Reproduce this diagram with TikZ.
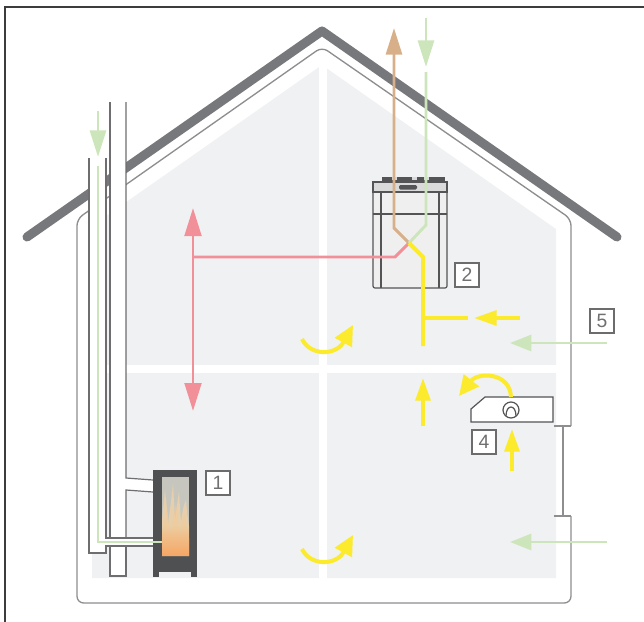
\documentclass[tikz,border=0pt]{standalone}
\usepackage{fontspec}
\setmainfont{Liberation Sans}
\usetikzlibrary{arrows.meta,fadings}

\definecolor{framegray}{HTML}{3C3C3E}
\definecolor{roofgray}{HTML}{77787B}
\definecolor{wallgray}{HTML}{8E8E90}
\definecolor{roomfill}{HTML}{F0F1F3}
\definecolor{pipegray}{HTML}{6E6E70}
\definecolor{extractair}{HTML}{F2909A}
\definecolor{exhaustair}{HTML}{D7B089}
\definecolor{freshair}{HTML}{CDE5BA}
\definecolor{supplyair}{HTML}{FCEA2C}
\definecolor{stovegray}{HTML}{4F5052}
\definecolor{glasscol}{HTML}{C7C6BE}
\definecolor{flamecol}{HTML}{F4D3A2}
\definecolor{embercol}{HTML}{F6A664}
\definecolor{labelgray}{HTML}{707072}
\definecolor{unitfill}{HTML}{EFEFF0}
\definecolor{unitlid}{HTML}{DADADB}
\definecolor{unitline}{HTML}{545456}

\begin{document}
\begin{tikzpicture}[x=0.75pt,y=-0.75pt,
  roofline/.style={draw=roofgray,line width=6.8pt,line cap=round,line join=round},
  wallline/.style={draw=wallgray,line width=1pt},
  pipeline/.style={draw=pipegray,line width=0.9pt},
  pinkflow/.style={draw=extractair,line width=2.2pt},
  brownflow/.style={draw=exhaustair,line width=2.2pt},
  greenflow/.style={draw=freshair,line width=2.2pt},
  yellowflow/.style={draw=supplyair,line width=3pt},
  bigtip/.style={-{Triangle[length=20pt,width=12pt]}},
  yellowtip/.style={-{Triangle[length=17pt,width=11pt]}},
  swirltip/.style={-{Triangle[length=15pt,width=14pt]}},
  unitbox/.style={draw=unitline,line width=0.9pt},
  numbox/.style={draw=gray!85!black,line width=0.8pt,fill=white,minimum size=18pt,inner sep=0pt,
                 text=labelgray,font=\fontsize{14.5}{15}\selectfont}
]
\useasboundingbox (0,0) rectangle (644,622);

% outer frame
\draw[draw=framegray,line width=0.9pt] (5,622) -- (5,7) -- (644,7);

% roof
\coordinate (roofL) at (27,237);
\coordinate (roofTop) at (322,31);
\coordinate (roofR) at (617,237);
\draw[roofline] (roofL) -- (roofTop) -- (roofR);

% room interior
\fill[roomfill] (92,578) -- (92,226) -- (322,65) -- (556,229) -- (556,578) -- cycle;
\fill[white] (318.5,60) rectangle (326.5,580);
\fill[white] (90,365) rectangle (558,373);

% house outline
\draw[wallline,rounded corners=5pt] (571,426) -- (571,219) -- (322,47) -- (77,219) -- (77,603) -- (571,603) -- (571,516);
\draw[wallline] (554,426) -- (571,426);
\draw[wallline] (554,516) -- (571,516);
\draw[wallline] (563,426) -- (563,516);

% chimney: combustion air duct and flue
\fill[white] (89,158) rectangle (106,553);
\fill[white] (110,102) rectangle (126,576);
\fill[white] (106,538) rectangle (153,546);
\fill[white] (126,478) -- (153,480) -- (153,492) -- (126,490) -- cycle;
\draw[pipeline] (89,158) -- (89,553) -- (106,553) -- (106,546) -- (153,546);
\draw[pipeline] (106,158) -- (106,538) -- (153,538);
\draw[pipeline] (110,102) -- (110,538);
\draw[pipeline] (126,102) -- (126,478) -- (153,480);
\draw[pipeline] (153,492) -- (126,490) -- (126,538);
\draw[pipeline] (110,546) -- (110,576) -- (126,576) -- (126,546);

% stove
\fill[stovegray] (153,470) rectangle (197,572);
\fill[stovegray] (153,571) rectangle (159,577);
\fill[stovegray] (191,571) rectangle (197,577);
\begin{scope}
  \clip (162,477) rectangle (189,556);
  \fill[glasscol] (162,477) rectangle (189,556);
  \fill[flamecol,opacity=.7] (162,556) -- (162,520) .. controls (164,505) .. (165,490)
     .. controls (167,508) .. (168,524) .. controls (170,510) .. (173,484)
     .. controls (174,502) .. (175,520) .. controls (177,505) .. (179,492)
     .. controls (180,508) .. (181,522) .. controls (183,508) .. (186,500)
     .. controls (187,512) .. (189,526) -- (189,556) -- cycle;
  \fill[flamecol!80!embercol,opacity=.6] (162,556) -- (162,535) .. controls (165,522) .. (167,508)
     .. controls (169,524) .. (171,536) .. controls (173,522) .. (176,502)
     .. controls (178,522) .. (180,536) .. controls (182,524) .. (184,514)
     .. controls (186,526) .. (189,538) -- (189,556) -- cycle;
  \fill[embercol,path fading=north] (162,526) rectangle (189,556);
\end{scope}

% ventilation unit
\filldraw[unitbox,fill=unitfill,rounded corners=1.5pt] (373,186) rectangle (447,288);
\filldraw[unitbox,fill=unitlid] (373,182) rectangle (447,192);
\fill[unitline] (382,177) rectangle (445,182);
\fill[unitlid] (392,177) rectangle (397,179.5);
\fill[unitlid] (412,177) rectangle (417,179.5);
\fill[unitlid] (424,177) rectangle (429,179.5);
\fill[unitline,rounded corners=1pt] (399,185) rectangle (417,189.5);
\draw[unitbox] (381,192) -- (381,288);
\draw[unitbox] (439,192) -- (439,288);
\draw[unitbox] (373,214) -- (447,214);

% air flows through the unit
\coordinate (cross) at (409,243);
\coordinate (exhaustTop) at (394,28);
\coordinate (freshTopA) at (426,18);
\coordinate (freshTopB) at (426,67);
\coordinate (freshIn) at (426,72);
\coordinate (extractUp) at (193,208);
\coordinate (extractDown) at (193,411);
\coordinate (extractJoin) at (193,257);

\draw[pinkflow,{Triangle[length=21pt,width=12.5pt]}-{Triangle[length=21pt,width=12.5pt]}] (extractUp) -- (extractDown);
\draw[pinkflow] (extractJoin) -- (395,257) -- (cross);
\draw[brownflow,bigtip] (cross) -- (394,228) -- (exhaustTop);
\draw[greenflow,bigtip] (freshTopA) -- (freshTopB);
\draw[greenflow] (freshIn) -- (426,225) -- (cross);

% supply air
\coordinate (supplyBend) at (423,257);
\coordinate (supplyT) at (423,318);
\draw[yellowflow] (cross) -- (supplyBend) -- (423,346);
\draw[yellowflow] (supplyT) -- (468,318);
\coordinate (ovA) at (520,318);
\coordinate (ovB) at (474,318);
\draw[yellowflow,yellowtip] (ovA) -- (ovB);
\coordinate (upA) at (423,426);
\coordinate (upB) at (423,378);
\draw[yellowflow,yellowtip] (upA) -- (upB);

% circulation in the rooms
\coordinate (swA1) at (302,339);
\coordinate (swA2) at (353,325);
\draw[yellowflow,swirltip] (swA1) .. controls (310,356) and (336,356) .. (swA2);
\coordinate (swB1) at (302,549);
\coordinate (swB2) at (353,535);
\draw[yellowflow,swirltip] (swB1) .. controls (310,566) and (336,566) .. (swB2);

% wall-mounted fan unit
\filldraw[unitbox,fill=white] (471,409) -- (485,397) -- (553,397) -- (553,422) -- (471,422) -- cycle;
\draw[unitbox] (511,410) circle[radius=8];
\draw[unitbox] (506,416) .. controls (506,404) and (516,404) .. (516,416);
\coordinate (fanA) at (511,397);
\coordinate (fanB) at (459,396);
\draw[yellowflow,swirltip] (fanA) .. controls (510,372) and (478,372) .. (fanB);
\coordinate (fanInA) at (512,471);
\coordinate (fanInB) at (512,429);
\draw[yellowflow,yellowtip] (fanInA) -- (fanInB);

% fresh air
\coordinate (chimA) at (98,111);
\coordinate (chimB) at (98,157);
\draw[greenflow,bigtip] (chimA) -- (chimB);
\draw[greenflow] (98,166) -- (98,542) -- (162,542);
\coordinate (winA1) at (607,343);
\coordinate (winA2) at (510,343);
\draw[greenflow,-{Triangle[length=16pt,width=12pt]}] (winA1) -- (winA2);
\coordinate (winB1) at (607,542);
\coordinate (winB2) at (510,542);
\draw[greenflow,-{Triangle[length=16pt,width=12pt]}] (winB1) -- (winB2);

% numbers
\node[numbox] (n1) at (218,483) {1};
\node[numbox] (n2) at (467,275) {2};
\node[numbox] (n4) at (484,442) {4};
\node[numbox] (n5) at (602,321) {5};
\end{tikzpicture}
\end{document}
